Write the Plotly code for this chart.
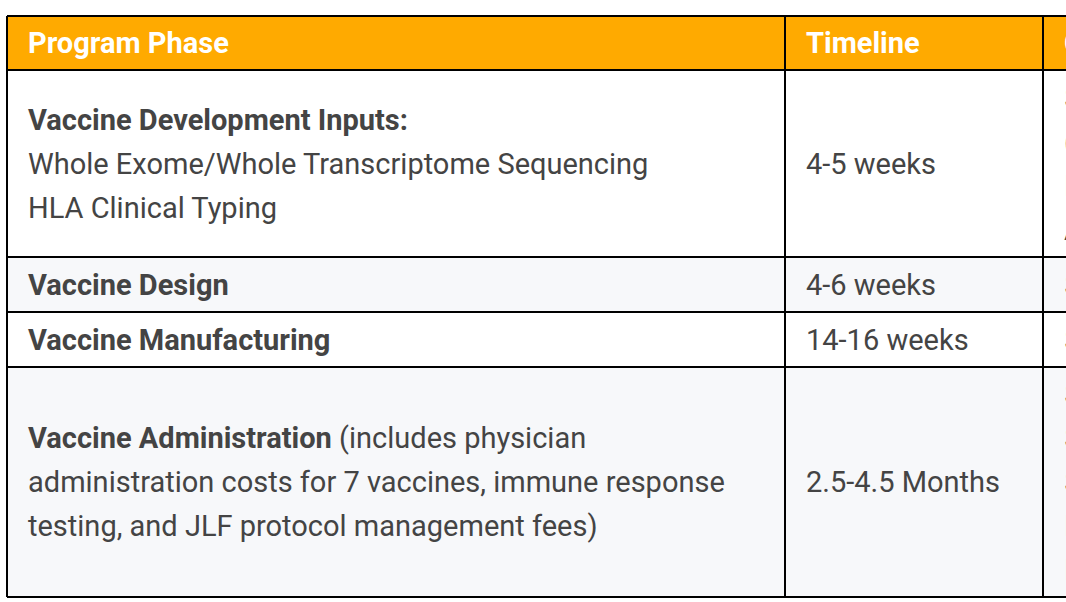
import plotly.graph_objects as go

# table content
headers = ["Program Phase", "Timeline", "Cost"]
phase_lines = [
    ["<b>Vaccine Development Inputs:</b>",
     "Whole Exome/Whole Transcriptome Sequencing",
     "HLA Clinical Typing"],
    ["<b>Vaccine Design</b>"],
    ["<b>Vaccine Manufacturing</b>"],
    ["<b>Vaccine Administration</b> (includes physician",
     "administration costs for 7 vaccines, immune response",
     "testing, and JLF protocol management fees)"],
]
timeline = ["4-5 weeks", "4-6 weeks", "14-16 weeks", "2.5-4.5 Months"]
cost_lines = [
    ["$8,000 sequencing", "(covered by insurance", "In some cases)", "Additional fees"],
    ["$5,000"],
    ["$40,000"],
    ["$2,000 per dose", "$3,000 testing", "$2,500 management", "Insurance may", "Insurance may not"],
]

# layout geometry (pixels)
W, H = 1066, 602
col_x = [7, 785, 1043, 1400]
row_y = [16, 70, 257, 312, 367, 597]
pad = 19
line_h = 44
font = "Roboto"
fs = 29
orange = "#FFAA00"
txt = "#444444"
stripe = "#F7F8FA"

fig = go.Figure()
shapes = []
annots = []

# header
shapes.append(dict(type="rect", x0=col_x[0], x1=col_x[-1], y0=row_y[0], y1=row_y[1],
                   fillcolor=orange, line_width=0, layer="below"))
for j, h in enumerate(headers):
    annots.append(dict(x=col_x[j] + pad, y=(row_y[0] + row_y[1]) / 2, text="<b>" + h + "</b>",
                       xanchor="left", yanchor="middle", showarrow=False,
                       font=dict(family=font, size=fs, color="white")))

# body rows
for i in range(len(timeline)):
    y0, y1 = row_y[i + 1], row_y[i + 2]
    bg = "white" if i % 2 == 0 else stripe
    shapes.append(dict(type="rect", x0=col_x[0], x1=col_x[-1], y0=y0, y1=y1,
                       fillcolor=bg, line_width=0, layer="below"))
    yc = (y0 + y1) / 2
    cells = [phase_lines[i], [timeline[i]], cost_lines[i]]
    for j, lines in enumerate(cells):
        n = len(lines)
        for k, t in enumerate(lines):
            annots.append(dict(x=col_x[j] + pad, y=yc + (k - (n - 1) / 2) * line_h, text=t,
                               xanchor="left", yanchor="middle", showarrow=False,
                               font=dict(family=font, size=fs, color=txt)))

# grid lines
for y in row_y:
    shapes.append(dict(type="line", x0=col_x[0], x1=col_x[-1], y0=y, y1=y,
                       line=dict(color="black", width=2)))
for x in col_x[:-1]:
    shapes.append(dict(type="line", x0=x, x1=x, y0=row_y[0], y1=row_y[-1],
                       line=dict(color="black", width=2)))

fig.update_layout(
    width=W, height=H,
    margin=dict(l=0, r=0, t=0, b=0),
    paper_bgcolor="white", plot_bgcolor="white",
    xaxis=dict(range=[0, W], visible=False, fixedrange=True),
    yaxis=dict(range=[H, 0], visible=False, fixedrange=True),
    shapes=shapes, annotations=annots,
    showlegend=False,
)
# drop the page's default body margin so the figure fills the window
fig.write_html("out.html", config={"displayModeBar": False},
               post_script="document.body.style.margin='0px';document.body.style.overflow='hidden';")
